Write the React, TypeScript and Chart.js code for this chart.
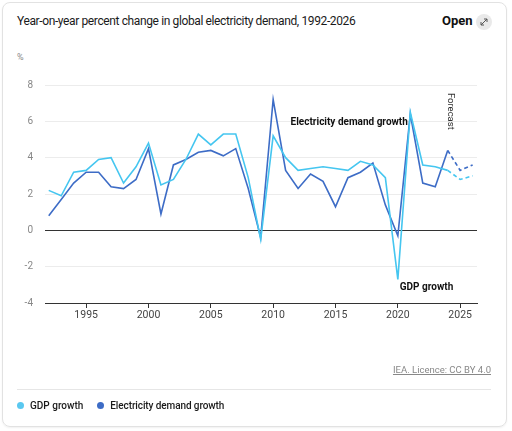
import React, { useEffect, useRef } from "react";
import { Chart, registerables } from "chart.js";

Chart.register(...registerables);

const years = [
  1992, 1993, 1994, 1995, 1996, 1997, 1998, 1999, 2000, 2001, 2002, 2003, 2004, 2005, 2006, 2007, 2008,
  2009, 2010, 2011, 2012, 2013, 2014, 2015, 2016, 2017, 2018, 2019, 2020, 2021, 2022, 2023, 2024, 2025, 2026,
];
const gdpGrowth = [
  2.2, 1.9, 3.2, 3.3, 3.9, 4.0, 2.6, 3.5, 4.8, 2.5, 2.8, 3.9, 5.3, 4.7, 5.3, 5.3, 2.9,
  -0.5, 5.2, 4.0, 3.3, 3.4, 3.5, 3.4, 3.3, 3.8, 3.6, 2.9, -2.7, 6.5, 3.6, 3.5, 3.3, 2.8, 3.0,
];
const electricityGrowth = [
  0.8, 1.7, 2.6, 3.2, 3.2, 2.4, 2.3, 2.8, 4.5, 0.9, 3.6, 3.9, 4.3, 4.4, 4.1, 4.5, 2.3,
  -0.4, 7.2, 3.3, 2.3, 3.1, 2.7, 1.3, 2.9, 3.2, 3.7, 1.4, -0.3, 6.4, 2.6, 2.4, 4.4, 3.3, 3.6,
];
const forecastStart = 2024;
const xTickYears = [1995, 2000, 2005, 2010, 2015, 2020, 2025];
const yTicks = [-4, -2, 0, 2, 4, 6, 8];

const GDP_COLOR = "#45c6f0";
const ELEC_COLOR = "#3d6cc6";
const FONT = "Roboto, 'Noto Sans', sans-serif";

const annotations = [
  { text: "Electricity demand growth", x: 2016.1, y: 5.92, rotate: false, bold: true, size: 10 },
  { text: "GDP growth", x: 2022.3, y: -3.17, rotate: false, bold: true, size: 10 },
  { text: "Forecast", x: 2024.2, y: 6.55, rotate: true, bold: false, size: 9.5 },
];

const annotationPlugin = {
  id: "textAnnotations",
  afterDatasetsDraw(chart: any) {
    const { ctx, scales } = chart;
    ctx.save();
    for (const a of annotations) {
      const px = scales.x.getPixelForValue(a.x);
      const py = scales.y.getPixelForValue(a.y);
      ctx.save();
      ctx.translate(px, py);
      if (a.rotate) ctx.rotate(Math.PI / 2);
      ctx.font = `${a.bold ? 700 : 400} ${a.size}px ${FONT}`;
      ctx.fillStyle = a.bold ? "#111" : "#333";
      ctx.textAlign = "center";
      ctx.textBaseline = "middle";
      ctx.fillText(a.text, 0, 0);
      ctx.restore();
    }
    ctx.restore();
  },
};

function ChartCanvas() {
  const ref = useRef<HTMLCanvasElement | null>(null);
  useEffect(() => {
    if (!ref.current) return;
    const mk = (vals: number[]) => years.map((y, i) => ({ x: y, y: vals[i] }));
    const dash = (ctx: any) => (ctx.p0.parsed.x >= forecastStart ? [4, 3] : undefined);
    const chart = new Chart(ref.current, {
      type: "line",
      data: {
        datasets: [
          {
            label: "GDP growth",
            data: mk(gdpGrowth),
            borderColor: GDP_COLOR,
            backgroundColor: GDP_COLOR,
            borderWidth: 1.6,
            pointRadius: 0,
            tension: 0,
            segment: { borderDash: dash },
          },
          {
            label: "Electricity demand growth",
            data: mk(electricityGrowth),
            borderColor: ELEC_COLOR,
            backgroundColor: ELEC_COLOR,
            borderWidth: 1.6,
            pointRadius: 0,
            tension: 0,
            segment: { borderDash: dash },
          },
        ],
      },
      options: {
        animation: false,
        responsive: false,
        events: [],
        layout: { padding: { top: 85, left: 0, right: 35, bottom: 108 } },
        plugins: { legend: { display: false }, tooltip: { enabled: false } },
        scales: {
          x: {
            type: "linear",
            min: 1991.7,
            max: 2026.35,
            afterBuildTicks: (scale: any) => {
              scale.ticks = xTickYears.map((v) => ({ value: v }));
            },
            afterFit: (scale: any) => {
              scale.height = 20;
            },
            grid: { drawOnChartArea: false, drawTicks: true, tickLength: 5, color: "#333", lineWidth: 1 },
            border: { display: true, color: "#333", width: 1 },
            ticks: {
              padding: 1,
              color: "#444",
              font: { family: FONT, size: 10.5 },
              maxRotation: 0,
              autoSkip: false,
              callback: (v: any) => String(v),
            },
          },
          y: {
            min: -4,
            max: 8,
            afterBuildTicks: (scale: any) => {
              scale.ticks = yTicks.map((v) => ({ value: v }));
            },
            afterFit: (scale: any) => {
              scale.width = 45;
            },
            grid: {
              drawTicks: false,
              color: (c: any) => (c.tick && c.tick.value === 0 ? "#333" : c.tick && c.tick.value === -4 ? "rgba(0,0,0,0)" : "#ececec"),
              lineWidth: 1,
            },
            border: { display: false },
            ticks: {
              padding: 12,
              color: "#888",
              font: { family: FONT, size: 10 },
              callback: (v: any) => String(v),
            },
          },
        },
      },
      plugins: [annotationPlugin],
    } as any);
    return () => chart.destroy();
  }, []);
  return (
    <canvas
      ref={ref}
      width={512}
      height={431}
      style={{ position: "absolute", left: 0, top: 0, width: 512, height: 431 }}
    />
  );
}

export default function App() {
  return (
    <div
      style={{
        position: "fixed",
        left: 0,
        top: 0,
        width: 512,
        height: 431,
        background: "#fff",
        fontFamily: FONT,
        overflow: "hidden",
      }}
    >
      <div
        style={{
          position: "absolute",
          left: 2,
          top: 2,
          width: 503,
          height: 423,
          border: "1px solid #e2e2e2",
          borderRadius: 8,
          boxShadow: "0 1px 2px rgba(0,0,0,0.06)",
        }}
      />
      <div
        style={{
          position: "absolute",
          left: 17,
          top: 14,
          fontSize: 12,
          color: "#1a1a1a",
          letterSpacing: -0.38,
          whiteSpace: "nowrap",
        }}
      >
        Year-on-year percent change in global electricity demand, 1992-2026
      </div>
      <div
        style={{
          position: "absolute",
          left: 442,
          top: 13,
          fontSize: 13,
          fontWeight: 700,
          color: "#111",
        }}
      >
        Open
      </div>
      <div
        style={{
          position: "absolute",
          left: 476,
          top: 14,
          width: 16,
          height: 16,
          borderRadius: 8,
          background: "#e9e9e9",
        }}
      >
        <svg width="16" height="16" viewBox="0 0 16 16">
          <path d="M5 11 L11 5 M8 5 L11 5 L11 8 M5 8 L5 11 L8 11" stroke="#555" strokeWidth="1" fill="none" />
        </svg>
      </div>
      <div style={{ position: "absolute", left: 17, top: 52, fontSize: 9, color: "#888" }}>%</div>
      <ChartCanvas />
      <div
        style={{
          position: "absolute",
          right: 21,
          top: 364,
          fontSize: 9.5,
          color: "#888",
          textDecoration: "underline",
          whiteSpace: "nowrap",
        }}
      >
        IEA. Licence: CC BY 4.0
      </div>
      <div style={{ position: "absolute", left: 17, top: 389, width: 474, height: 1, background: "#e6e6e6" }} />
      <div
        style={{
          position: "absolute",
          left: 17,
          top: 400,
          display: "flex",
          alignItems: "center",
          fontSize: 10,
          fontWeight: 500,
          color: "#1a1a1a",
          whiteSpace: "nowrap",
        }}
      >
        <span style={{ width: 7, height: 7, borderRadius: 4, background: "#5ac8f0", display: "inline-block", marginRight: 6 }} />
        <span style={{ marginRight: 14 }}>GDP growth</span>
        <span style={{ width: 7, height: 7, borderRadius: 4, background: ELEC_COLOR, display: "inline-block", marginRight: 6 }} />
        <span style={{ letterSpacing: -0.1 }}>Electricity demand growth</span>
      </div>
    </div>
  );
}
